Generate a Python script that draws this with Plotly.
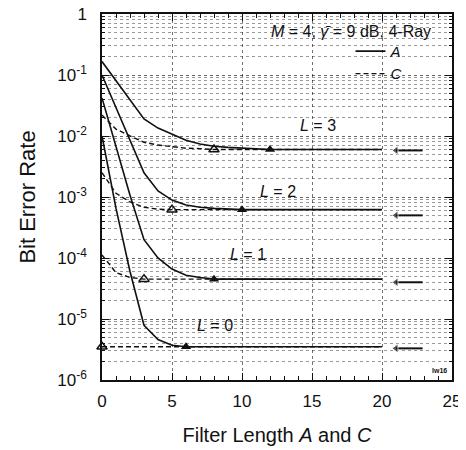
"""BER versus filter length A and C for a 4-ray channel, M = 4."""

import plotly.graph_objects as go

# Filter length points and BER
LAYERS = ["0", "1", "2", "3"]

a_x = {
    "0": [0, 1, 2, 3, 4, 5, 6, 20],
    "1": [0, 1, 2, 3, 4, 5, 6, 7, 8, 20],
    "2": [0, 1, 2, 3, 4, 5, 6, 7, 8, 9, 10, 20],
    "3": [0, 1, 2, 3, 4, 5, 6, 7, 8, 9, 10, 11, 12, 20],
}
a_ber = {
    "0": [1.0e-2, 6.5e-4, 6.0e-5, 7.9e-6, 4.6e-6, 3.7e-6, 3.5e-6, 3.5e-6],
    "1": [4.2e-2, 6.6e-3, 1.07e-3, 2.0e-4, 1.0e-4, 6.6e-5, 5.2e-5, 4.8e-5, 4.5e-5, 4.5e-5],
    "2": [1.0e-1, 2.95e-2, 8.3e-3, 2.5e-3, 1.26e-3, 8.9e-4, 7.4e-4, 6.8e-4, 6.5e-4,
          6.3e-4, 6.2e-4, 6.2e-4],
    "3": [1.66e-1, 8.1e-2, 4.0e-2, 1.9e-2, 1.35e-2, 1.07e-2, 8.5e-3, 7.4e-3, 6.8e-3,
          6.5e-3, 6.3e-3, 6.2e-3, 6.0e-3, 6.0e-3],
}

c_x = {
    "0": [0, 20],
    "1": [0, 1, 2, 3, 20],
    "2": [0, 1, 2, 3, 4, 5, 20],
    "3": [0, 1, 2, 3, 4, 5, 6, 7, 8, 20],
}
c_ber = {
    "0": [3.5e-6, 3.5e-6],
    "1": [1.12e-4, 5.75e-5, 4.8e-5, 4.5e-5, 4.5e-5],
    "2": [2.5e-3, 1.15e-3, 8.3e-4, 6.8e-4, 6.3e-4, 6.2e-4, 6.2e-4],
    "3": [2.2e-2, 1.3e-2, 1.0e-2, 7.9e-3, 7.1e-3, 6.6e-3, 6.3e-3, 6.2e-3, 6.0e-3, 6.0e-3],
}

# filter length where each curve reaches its floor (triangle markers)
a_knee = {"0": 6, "1": 8, "2": 10, "3": 12}
c_knee = {"0": 0, "1": 3, "2": 5, "3": 8}

# asymptotic BER shown by the arrows on the right
arrow_ber = {"0": 3.3e-6, "1": 4.0e-5, "2": 5.0e-4, "3": 5.8e-3}
arrow_x = [21.0, 22.9]

x_ticks = [0, 5, 10, 15, 20, 25]
y_ticks = [1, 1e-1, 1e-2, 1e-3, 1e-4, 1e-5, 1e-6]
y_ticktext = ["1", "10<sup>-1</sup>", "10<sup>-2</sup>", "10<sup>-3</sup>",
              "10<sup>-4</sup>", "10<sup>-5</sup>", "10<sup>-6</sup>"]

FONT = "Liberation Sans, Arial, sans-serif"
INK = "#111111"

fig = go.Figure()

for key in LAYERS:
    fig.add_trace(go.Scatter(
        x=c_x[key], y=c_ber[key], mode="lines",
        line=dict(color=INK, width=1.4, dash="5px,3px"),
        name="<i>C</i>", legendgroup="C", showlegend=(key == "3"), legendrank=2,
    ))
    fig.add_trace(go.Scatter(
        x=a_x[key], y=a_ber[key], mode="lines",
        line=dict(color=INK, width=1.6),
        name="<i>A</i>", legendgroup="A", showlegend=(key == "3"), legendrank=1,
    ))

    ca = c_x[key].index(c_knee[key])
    fig.add_trace(go.Scatter(
        x=[c_knee[key]], y=[c_ber[key][ca]], mode="markers",
        marker=dict(symbol="triangle-up-open", size=9, color=INK, line=dict(width=1.5)),
        showlegend=False, cliponaxis=False,
    ))
    ia = a_x[key].index(a_knee[key])
    fig.add_trace(go.Scatter(
        x=[a_knee[key]], y=[a_ber[key][ia]], mode="markers",
        marker=dict(symbol="triangle-up", size=9, color=INK),
        showlegend=False,
    ))

    # left-pointing arrow towards the asymptote
    fig.add_trace(go.Scatter(
        x=arrow_x, y=[arrow_ber[key], arrow_ber[key]], mode="lines+markers",
        line=dict(color=INK, width=2),
        marker=dict(symbol=["triangle-left", "circle"], size=[8, 0], color=INK),
        showlegend=False,
    ))

# curve labels
label_pos = {"0": (8.1, -5.1), "1": (10.4, -3.95), "2": (12.6, -2.91), "3": (15.4, -1.82)}
for key in LAYERS:
    lx, ly = label_pos[key]
    fig.add_annotation(
        x=lx, y=ly, xref="x", yref="y", showarrow=False,
        text=f"<i>L</i> = {key}", font=dict(family=FONT, size=16, color=INK),
    )

fig.add_annotation(
    x=0.945, y=0.953, xref="paper", yref="paper", xanchor="right", yanchor="middle",
    showarrow=False, text="<i>M</i> = 4, <i>γ̄</i> = 9 dB, 4-Ray",
    font=dict(family=FONT, size=16, color=INK),
)
fig.add_annotation(
    x=24.1, y=-5.84, xref="x", yref="y", showarrow=False,
    text="<b>lw16</b>", font=dict(family=FONT, size=7, color=INK),
)

minor_y = [m * 10.0 ** e for e in range(-6, 0) for m in range(2, 10)]

# the page body adds an 8px offset, so the margins are shifted to compensate
fig.update_layout(
    width=466,
    height=450,
    margin=dict(l=94, r=22, t=6, b=78),
    plot_bgcolor="white",
    paper_bgcolor="white",
    font=dict(family=FONT, color=INK),
    showlegend=True,
    legend=dict(
        x=0.71, y=0.943, xanchor="left", yanchor="top",
        bgcolor="rgba(0,0,0,0)", font=dict(family=FONT, size=15, color=INK),
        tracegroupgap=0, itemwidth=30,
    ),
    xaxis=dict(
        range=[0, 25], automargin=False,
        tickmode="array", tickvals=x_ticks,
        ticks="inside", ticklen=7, tickcolor=INK, tickwidth=1,
        showline=True, linecolor=INK, linewidth=1.5, mirror="allticks",
        showgrid=True, gridcolor="rgba(0,0,0,0.55)", griddash="dot", gridwidth=1,
        zeroline=False,
        tickfont=dict(family=FONT, size=17, color=INK),
        ticklabelstandoff=5, ticklabeloverflow="allow",
        minor=dict(dtick=1, ticks="inside", ticklen=4, tickcolor=INK, showgrid=False),
        title=dict(text="Filter Length <i>A</i> and <i>C</i>",
                   font=dict(family=FONT, size=20, color=INK), standoff=18),
    ),
    yaxis=dict(
        type="log", range=[-6, 0], automargin=False,
        tickmode="array", tickvals=y_ticks, ticktext=y_ticktext,
        ticks="inside", ticklen=7, tickcolor=INK, tickwidth=1,
        showline=True, linecolor=INK, linewidth=1.5, mirror="allticks",
        showgrid=True, gridcolor="rgba(0,0,0,0.6)", griddash="dot", gridwidth=1,
        zeroline=False,
        tickfont=dict(family=FONT, size=17, color=INK),
        ticklabelstandoff=10, ticklabeloverflow="allow",
        minor=dict(tickmode="array", tickvals=minor_y, ticks="inside", ticklen=3,
                   tickcolor=INK, showgrid=True, gridcolor="rgba(0,0,0,0.4)",
                   griddash="dot", gridwidth=1),
        title=dict(text="Bit Error Rate", font=dict(family=FONT, size=22, color=INK),
                   standoff=16),
    ),
)

fig.write_html("out.html")
